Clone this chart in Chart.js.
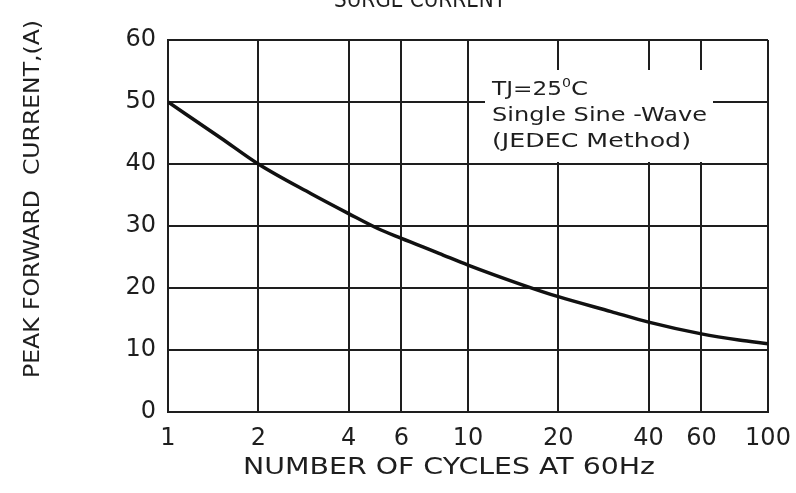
<!DOCTYPE html>
<html>
<head>
<meta charset="utf-8">
<script src="https://cdn.jsdelivr.net/npm/chart.js@4"></script>
<style>
  html, body { margin: 0; padding: 0; background: #fff; }
  #wrap { width: 796px; height: 493px; }
</style>
</head>
<body>
<div id="wrap"><canvas id="surgeChart" width="796" height="493"></canvas></div>
<script>
// data
var cycles = [1, 1.5, 2, 3, 4, 5, 6, 8, 10, 15, 20, 30, 40, 60, 80, 100];
var peakCurrent = [50, 44.2, 40, 35.2, 32, 29.6, 28, 25.6, 23.7, 20.6, 18.6, 16.2, 14.5, 12.6, 11.6, 11];
var xTicks = [1, 2, 4, 6, 10, 20, 40, 60, 100];
var yTicks = [0, 10, 20, 30, 40, 50, 60];

var ink = '#1e1e1e';
var font = 'DejaVu Sans';

// text squeezed/stretched to a given width (the scan is wider than the font)
function fitText(c, txt, x, y, width) {
    var w = c.measureText(txt).width;
    c.save();
    c.translate(x, y);
    c.scale(width / w, 1);
    c.fillText(txt, 0, 0);
    c.restore();
}

// titles and the note box, drawn by hand
var annotations = {
    id: 'annotations',
    afterDatasetsDraw: function (chart) {
        var c = chart.ctx;
        c.save();
        c.fillStyle = ink;
        c.textAlign = 'left';
        c.textBaseline = 'alphabetic';

        // top title (cut off in the original)
        c.font = '23px ' + font;
        fitText(c, 'SURGE CURRENT', 334, 7, 172);

        // x axis title
        c.font = '23px ' + font;
        fitText(c, 'NUMBER OF CYCLES AT 60Hz', 243, 474, 412);

        // y axis title
        c.save();
        c.translate(39, 378);
        c.rotate(-Math.PI / 2);
        c.font = '21px ' + font;
        fitText(c, 'PEAK FORWARD  CURRENT,(A)', 0, 0, 358);
        c.restore();

        // note box
        c.fillStyle = '#fff';
        c.fillRect(485, 70, 228, 92);
        c.fillStyle = ink;
        c.font = '20px ' + font;
        fitText(c, 'TJ=25', 492, 95, 70);
        c.font = '12px ' + font;
        fitText(c, '0', 562, 87, 9);
        c.font = '20px ' + font;
        fitText(c, 'C', 571, 95, 17);
        fitText(c, 'Single Sine -Wave', 492, 121, 215);
        fitText(c, '(JEDEC Method)', 492, 147, 199);
        c.restore();
    }
};

var ctx = document.getElementById('surgeChart').getContext('2d');
var surgeChart = new Chart(ctx, {
    type: 'line',
    data: {
        datasets: [{
            data: cycles.map(function (v, i) { return { x: v, y: peakCurrent[i] }; }),
            borderColor: '#111',
            borderWidth: 3.5,
            pointRadius: 0,
            fill: false,
            cubicInterpolationMode: 'monotone'
        }]
    },
    options: {
        responsive: false,
        animation: false,
        layout: { padding: { left: 0, right: 28, top: 40, bottom: 0 } },
        plugins: { legend: { display: false }, tooltip: { enabled: false } },
        scales: {
            x: {
                type: 'logarithmic',
                min: 1,
                max: 100,
                afterBuildTicks: function (scale) {
                    scale.ticks = xTicks.map(function (v) { return { value: v }; });
                },
                afterFit: function (scale) {
                    scale.height = 81;
                    scale.paddingLeft = 0;
                    scale.paddingRight = 0;
                },
                grid: { color: ink, lineWidth: 2, drawTicks: false },
                border: { color: ink, width: 2 },
                ticks: {
                    color: ink,
                    padding: 12,
                    maxRotation: 0,
                    autoSkip: false,
                    font: { family: font, size: 24 },
                    callback: function (v) { return String(v); }
                }
            },
            y: {
                min: 0,
                max: 60,
                afterBuildTicks: function (scale) {
                    scale.ticks = yTicks.map(function (v) { return { value: v }; });
                },
                afterFit: function (scale) {
                    scale.width = 168;
                    scale.paddingTop = 0;
                    scale.paddingBottom = 0;
                },
                grid: { color: ink, lineWidth: 2, drawTicks: false },
                border: { color: ink, width: 2 },
                ticks: {
                    color: ink,
                    padding: 12,
                    font: { family: font, size: 24 }
                }
            }
        }
    },
    plugins: [annotations]
});
</script>
</body>
</html>
